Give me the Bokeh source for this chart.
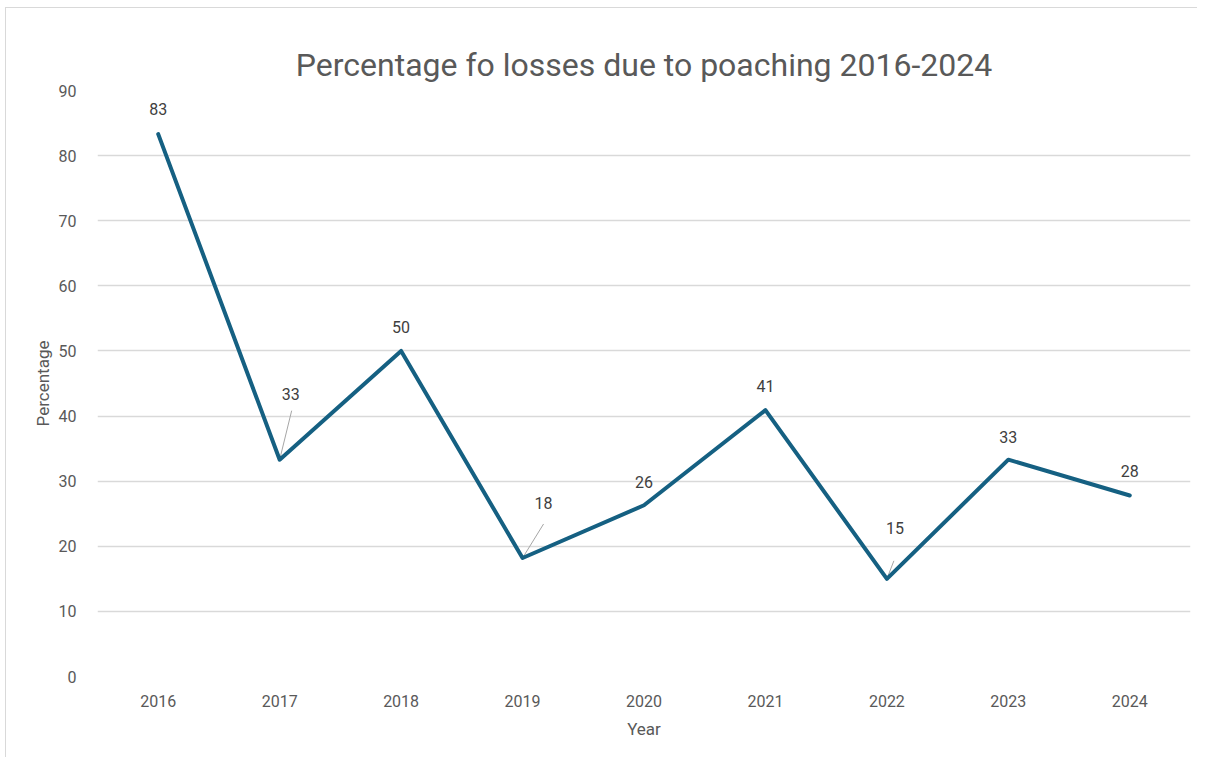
from bokeh.plotting import figure
from bokeh.models import Range1d, FixedTicker, ColumnDataSource
from bokeh.embed import file_html
from bokeh.resources import INLINE
from bokeh.core.properties import value

# ---- data ----
years = ["2016", "2017", "2018", "2019", "2020", "2021", "2022", "2023", "2024"]
percent = [83.3, 33.3, 50.0, 18.2, 26.3, 40.9, 15.0, 33.3, 27.8]
labels = ["83", "33", "50", "18", "26", "41", "15", "33", "28"]

# ---- styles ----
LINE = "#156082"
GRID = "#d9d9d9"
TXT = "#595959"
LBL = "#404040"
FONT = "Roboto"

# label offsets in pixels (dx, dy upward) and which labels get leader lines
lbl_dx = [0, 11, 0, 21, 0, 0, 8, 0, 0]
lbl_dy = [25, 66, 24, 55, 23, 24, 51, 23, 24]
leader = [False, True, False, True, False, False, True, False, False]
lead_end = [(0, 0), (12, 49), (0, 0), (21, 34), (0, 0), (0, 0), (7, 18), (0, 0), (0, 0)]

ML, MR, MT, MB = 91, 8, 82, 82
FW, FH = 1093, 586
W, H = ML + FW + MR, MT + FH + MB

p = figure(width=W, height=H, output_backend="svg", toolbar_location=None,
           x_range=Range1d(-0.5, len(years) - 0.5), y_range=Range1d(0, 90),
           min_border_left=ML, min_border_right=MR, min_border_top=MT, min_border_bottom=MB)

px_x = len(years) / FW   # data units per pixel
px_y = 90.0 / FH

xs = list(range(len(years)))

p.title.text = "Percentage fo losses due to poaching 2016-2024"
p.title.text_font = FONT
p.title.text_font_size = "32px"
p.title.text_font_style = "normal"
p.title.text_color = TXT
p.title.align = "center"
p.title.offset = -6
p.title.standoff = 14

p.outline_line_color = None
p.background_fill_color = "white"
p.border_fill_color = "white"

p.xgrid.grid_line_color = None
p.ygrid.grid_line_color = GRID
p.ygrid.grid_line_width = 1.5

p.yaxis.ticker = FixedTicker(ticks=list(range(0, 91, 10)))
p.xaxis.ticker = FixedTicker(ticks=xs)
p.xaxis.major_label_overrides = {i: y for i, y in enumerate(years)}

for ax in (p.xaxis[0], p.yaxis[0]):
    ax.axis_line_color = None
    ax.major_tick_line_color = None
    ax.minor_tick_line_color = None
    ax.major_label_text_font = FONT
    ax.major_label_text_font_size = "16px"
    ax.major_label_text_color = TXT
    ax.axis_label_text_font = FONT
    ax.axis_label_text_font_size = "17px"
    ax.axis_label_text_font_style = "normal"
    ax.axis_label_text_color = TXT

p.yaxis.axis_label = "Percentage"
p.xaxis.axis_label = "Year"
p.yaxis.major_label_standoff = 15
p.yaxis.axis_label_standoff = 3
p.xaxis.major_label_standoff = 12
p.xaxis.axis_label_standoff = 9

src = ColumnDataSource(dict(x=xs, y=percent, t=labels,
                            lx=[x + dx * px_x for x, dx in zip(xs, lbl_dx)],
                            ly=[y + dy * px_y for y, dy in zip(percent, lbl_dy)]))

# leader lines
lx0 = [x for x, l in zip(xs, leader) if l]
ly0 = [y for y, l in zip(percent, leader) if l]
lx1 = [x + e[0] * px_x for x, e, l in zip(xs, lead_end, leader) if l]
ly1 = [y + e[1] * px_y for y, e, l in zip(percent, lead_end, leader) if l]
p.segment(x0=lx0, y0=ly0, x1=lx1, y1=ly1, line_color="#a6a6a6", line_width=1)

p.line("x", "y", source=src, line_color=LINE, line_width=4, line_join="round", line_cap="round")

p.text("lx", "ly", text="t", source=src, text_align="center", text_baseline="middle",
       text_font=value(FONT), text_font_size="16px", text_color=LBL)

p.styles = {"margin-left": "5px", "margin-top": "7px",
            "border-left": "1px solid #d9d9d9", "border-top": "1px solid #d9d9d9"}

open("out.html", "w").write(file_html(p, INLINE))
